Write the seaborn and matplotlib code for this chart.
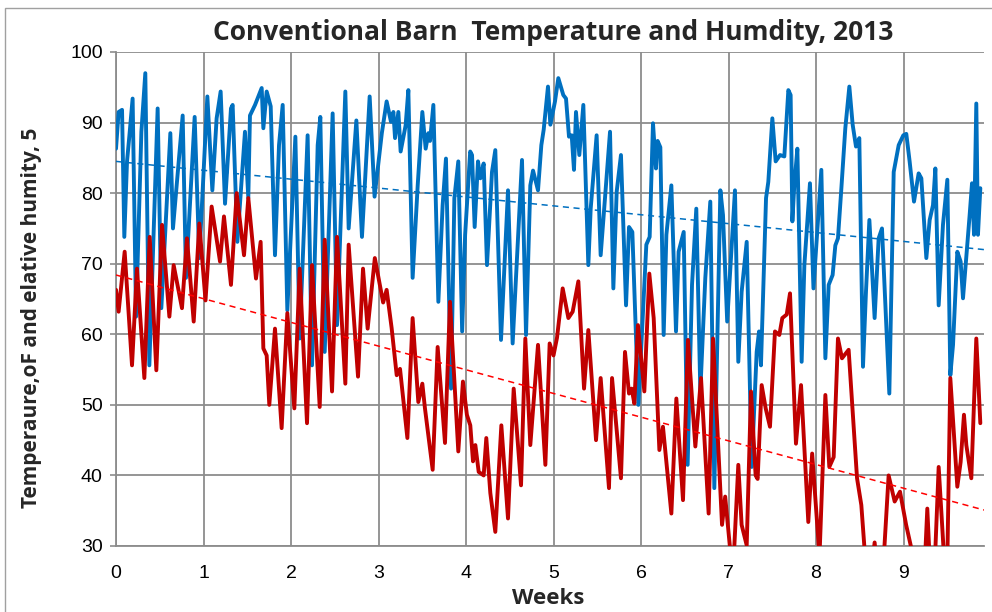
import numpy as np
import pandas as pd
import seaborn as sns
import matplotlib
matplotlib.use("Agg")
import matplotlib.pyplot as plt
from matplotlib.patches import Rectangle

# ---------------- data (weeks, values) ----------------
hum_weeks = [
    0.000, 0.030, 0.069, 0.095, 0.126, 0.152, 0.190, 0.229, 0.290, 0.335, 0.381, 0.476, 0.518, 0.621, 0.651,
    0.762, 0.800, 0.899, 0.952, 1.044, 1.101, 1.150, 1.196, 1.246, 1.314, 1.333, 1.387, 1.474, 1.512, 1.531,
    1.589, 1.665, 1.684, 1.722, 1.768, 1.817, 1.863, 1.905, 1.958, 2.050, 2.099, 2.190, 2.240, 2.305, 2.335,
    2.385, 2.476, 2.526, 2.621, 2.659, 2.747, 2.811, 2.899, 2.955, 3.038, 3.093, 3.143, 3.170, 3.189, 3.227,
    3.253, 3.310, 3.341, 3.390, 3.448, 3.501, 3.539, 3.570, 3.589, 3.627, 3.684, 3.733, 3.771, 3.829, 3.867,
    3.912, 3.956, 3.990, 4.048, 4.069, 4.099, 4.137, 4.164, 4.202, 4.240, 4.297, 4.335, 4.400, 4.480, 4.533,
    4.640, 4.686, 4.735, 4.766, 4.823, 4.861, 4.888, 4.937, 4.964, 5.017, 5.055, 5.112, 5.143, 5.177, 5.208,
    5.234, 5.257, 5.295, 5.341, 5.398, 5.425, 5.493, 5.539, 5.646, 5.684, 5.722, 5.771, 5.829, 5.863, 5.901,
    5.970, 6.061, 6.099, 6.137, 6.171, 6.190, 6.221, 6.259, 6.290, 6.347, 6.400, 6.430, 6.488, 6.533, 6.583,
    6.632, 6.678, 6.735, 6.792, 6.838, 6.907, 6.937, 6.985, 7.074, 7.112, 7.150, 7.208, 7.265, 7.322, 7.349,
    7.371, 7.429, 7.455, 7.501, 7.539, 7.589, 7.638, 7.684, 7.710, 7.730, 7.752, 7.787, 7.836, 7.867, 7.893,
    7.931, 7.971, 8.061, 8.107, 8.145, 8.190, 8.221, 8.251, 8.290, 8.335, 8.381, 8.419, 8.457, 8.495, 8.537,
    8.571, 8.610, 8.670, 8.716, 8.754, 8.838, 8.888, 8.945, 8.998, 9.032, 9.070, 9.120, 9.173, 9.204, 9.261,
    9.299, 9.337, 9.364, 9.402, 9.451, 9.501, 9.535, 9.566, 9.615, 9.653, 9.680, 9.756, 9.783, 9.806, 9.832,
    9.851, 9.878,
]
humidity = [
    86.3, 91.5, 91.8, 73.8, 84.5, 88.0, 93.4, 62.5, 88.7, 97.0, 55.6, 92.0, 63.7, 88.5, 75.0,
    91.0, 68.0, 90.8, 70.8, 93.7, 80.4, 90.6, 94.4, 78.5, 92.0, 92.5, 73.1, 88.7, 79.3, 91.0,
    92.5, 94.9, 89.2, 94.4, 92.3, 71.2, 86.8, 92.5, 63.4, 88.0, 59.4, 88.2, 55.6, 86.8, 90.8,
    57.5, 91.3, 61.3, 94.4, 75.0, 90.3, 73.8, 93.7, 79.5, 88.5, 93.0, 90.1, 91.5, 87.8, 91.5,
    85.9, 89.6, 94.6, 68.0, 81.1, 91.5, 86.3, 88.5, 87.4, 92.5, 64.6, 78.3, 84.9, 52.3, 79.3,
    84.5, 60.4, 74.1, 85.9, 85.4, 75.2, 84.5, 82.1, 84.2, 69.8, 83.0, 86.1, 59.2, 80.4, 58.7,
    84.7, 59.9, 81.1, 83.2, 80.4, 86.8, 89.0, 95.1, 89.7, 93.0, 96.3, 93.9, 93.4, 88.0, 88.2,
    83.3, 91.5, 85.4, 92.5, 69.8, 77.8, 88.2, 71.2, 88.7, 66.5, 80.2, 85.4, 64.1, 75.2, 74.5,
    50.0, 72.7, 73.8, 89.9, 83.5, 87.4, 86.5, 59.9, 74.1, 81.1, 60.4, 71.7, 74.5, 41.5, 67.0,
    77.8, 51.9, 68.0, 78.8, 38.2, 80.4, 76.9, 61.8, 80.4, 56.1, 66.0, 73.1, 41.2, 57.5, 60.4,
    55.6, 79.3, 81.6, 90.6, 84.5, 85.4, 85.2, 94.6, 93.9, 76.0, 81.1, 86.3, 56.1, 69.8, 74.5,
    81.4, 66.5, 83.3, 56.6, 67.0, 68.4, 72.6, 73.6, 80.7, 89.2, 95.1, 89.7, 86.6, 87.8, 55.4,
    66.0, 76.2, 62.3, 73.6, 75.0, 51.6, 83.0, 86.8, 88.2, 88.4, 84.5, 78.8, 82.8, 82.1, 70.8,
    76.2, 78.3, 83.5, 64.1, 75.5, 81.9, 54.2, 58.5, 71.7, 70.3, 65.1, 76.9, 81.4, 74.1, 92.7,
    74.1, 80.7,
]

temp_weeks = [
    0.000, 0.030, 0.099, 0.183, 0.240, 0.324, 0.385, 0.461, 0.526, 0.610, 0.659, 0.754, 0.811, 0.888, 0.952,
    1.023, 1.093, 1.189, 1.234, 1.314, 1.379, 1.463, 1.512, 1.600, 1.653, 1.684, 1.722, 1.752, 1.817, 1.893,
    1.958, 2.038, 2.099, 2.183, 2.240, 2.328, 2.385, 2.469, 2.526, 2.621, 2.659, 2.766, 2.823, 2.876, 2.958,
    3.053, 3.093, 3.150, 3.208, 3.246, 3.330, 3.390, 3.455, 3.501, 3.531, 3.619, 3.676, 3.760, 3.817, 3.912,
    3.965, 4.010, 4.049, 4.080, 4.107, 4.145, 4.202, 4.232, 4.278, 4.335, 4.404, 4.480, 4.545, 4.629, 4.678,
    4.735, 4.823, 4.907, 4.956, 5.000, 5.040, 5.105, 5.170, 5.219, 5.284, 5.349, 5.398, 5.486, 5.539, 5.634,
    5.669, 5.771, 5.817, 5.863, 5.893, 5.924, 5.965, 6.038, 6.095, 6.145, 6.210, 6.251, 6.347, 6.404, 6.480,
    6.537, 6.621, 6.686, 6.773, 6.823, 6.926, 6.962, 7.019, 7.055, 7.112, 7.150, 7.208, 7.257, 7.310, 7.333,
    7.379, 7.425, 7.474, 7.531, 7.581, 7.615, 7.665, 7.703, 7.771, 7.829, 7.912, 7.956, 8.040, 8.107, 8.152,
    8.202, 8.251, 8.297, 8.373, 8.469, 8.518, 8.564, 8.621, 8.670, 8.697, 8.773, 8.830, 8.899, 8.960, 9.030,
    9.082, 9.128, 9.242, 9.272, 9.303, 9.356, 9.402, 9.470, 9.501, 9.535, 9.615, 9.653, 9.691, 9.718, 9.775,
    9.832, 9.878,
]
temperature = [
    66.3, 63.2, 71.7, 55.6, 69.3, 53.8, 73.8, 54.9, 75.5, 62.5, 69.8, 63.7, 73.6, 61.8, 75.7,
    64.8, 78.1, 70.3, 76.7, 67.0, 80.0, 71.2, 79.3, 67.9, 73.1, 58.0, 57.0, 50.0, 60.8, 46.7,
    63.0, 49.5, 69.3, 47.4, 69.8, 49.7, 73.4, 51.9, 73.8, 53.0, 72.7, 54.0, 69.3, 60.8, 70.8,
    64.5, 66.3, 60.9, 54.2, 55.1, 45.3, 62.3, 50.4, 53.0, 49.5, 40.8, 58.2, 44.6, 64.6, 43.4,
    53.3, 48.6, 47.1, 42.0, 44.3, 40.5, 40.0, 45.3, 37.5, 32.0, 47.1, 33.9, 52.3, 38.6, 59.4,
    44.3, 58.5, 41.5, 58.7, 57.0, 59.5, 66.5, 62.3, 63.2, 67.5, 52.3, 60.6, 45.0, 53.8, 38.2,
    53.8, 39.6, 57.5, 51.6, 52.3, 50.2, 61.3, 51.9, 68.6, 62.3, 43.6, 46.9, 34.6, 50.9, 36.5,
    59.2, 44.1, 53.8, 34.6, 59.4, 33.0, 37.0, 29.5, 27.0, 41.5, 33.0, 30.1, 51.9, 40.0, 39.5,
    52.8, 49.5, 46.9, 60.4, 59.9, 62.3, 62.8, 65.8, 44.5, 52.8, 33.4, 43.1, 28.5, 51.4, 41.2,
    42.6, 59.4, 56.6, 57.8, 39.6, 35.8, 28.0, 25.0, 30.5, 27.0, 28.0, 40.0, 36.3, 37.7, 33.0,
    30.1, 27.0, 27.0, 35.3, 27.0, 27.0, 41.2, 27.0, 28.0, 53.8, 38.4, 41.9, 48.6, 44.3, 39.6,
    59.4, 47.4,
]

# linear trend lines (start / end)
trend_weeks = [0.0, 9.92]
hum_trend = [84.5, 72.0]
temp_trend = [68.4, 35.1]

x_ticks = list(range(0, 10))
y_ticks = list(range(30, 101, 10))

title = "Conventional Barn  Temperature and Humdity, 2013"
y_label = "Temperaure,oF and elative humity, 5"
x_label = "Weeks"

# ---------------- styling ----------------
sns.set_theme(style="white")
plt.rcParams["font.family"] = ["Liberation Sans Narrow", "Liberation Sans", "DejaVu Sans"]

W, H = 992, 612
fig = plt.figure(figsize=(W / 100, H / 100), dpi=100)
L, R, T, B = 116, 984, 52, 546
ax = fig.add_axes([L / W, 1 - B / H, (R - L) / W, (B - T) / H])

grid_c = "#8c8c8c"
blue = "#0070C0"
red = "#C00000"

hum_df = pd.DataFrame({"weeks": hum_weeks, "value": humidity})
temp_df = pd.DataFrame({"weeks": temp_weeks, "value": temperature})

sns.lineplot(data=hum_df, x="weeks", y="value", ax=ax, color=blue, linewidth=2.8,
             sort=False, estimator=None, zorder=3)
sns.lineplot(data=temp_df, x="weeks", y="value", ax=ax, color=red, linewidth=2.8,
             sort=False, estimator=None, zorder=3)
sns.lineplot(x=trend_weeks, y=hum_trend, ax=ax, color=blue, linewidth=1.1,
             linestyle=(0, (4, 3)), zorder=4)
sns.lineplot(x=trend_weeks, y=temp_trend, ax=ax, color="#FF0000", linewidth=1.1,
             linestyle=(0, (4, 3)), zorder=4)

ax.set_xlim(0, (R - L) / 87.5)
ax.set_ylim(30, 100)
ax.set_xticks(x_ticks)
ax.set_yticks(y_ticks)
ax.set_xticklabels([str(v) for v in x_ticks])
ax.set_yticklabels([str(v) for v in y_ticks])
ax.set_xlabel("")
ax.set_ylabel("")
ax.grid(True, color=grid_c, linewidth=1.3, zorder=1)
ax.set_axisbelow(True)
for s in ["top", "right"]:
    ax.spines[s].set_visible(False)
for s in ["left", "bottom"]:
    ax.spines[s].set_color(grid_c)
    ax.spines[s].set_linewidth(1.3)
ax.tick_params(axis="both", which="major", direction="out", width=1.2,
               color=grid_c, labelsize=14, labelcolor="black")
ax.tick_params(axis="y", length=4.5, pad=5, left=True)
ax.tick_params(axis="x", length=0, pad=14, bottom=True)

fig.text(553 / W, 1 - 32 / H, title, ha="center", va="center", fontsize=19,
         fontweight="bold", family=["Open Sans", "DejaVu Sans"])
fig.text(32 / W, 1 - 318 / H, y_label, ha="center", va="center", rotation=90,
         fontsize=15, fontweight="bold", family=["Open Sans", "DejaVu Sans"])
fig.text(548 / W, 1 - 598 / H, x_label, ha="center", va="center", fontsize=16,
         fontweight="bold", family=["Open Sans", "DejaVu Sans"])

# outer chart border
fig.add_artist(Rectangle((5 / W, -0.01), 1.05, 1 - 8 / H + 0.01, transform=fig.transFigure,
                         fill=False, edgecolor="#a0a0a0", linewidth=1.0))

fig.savefig("out.png", dpi=100)
